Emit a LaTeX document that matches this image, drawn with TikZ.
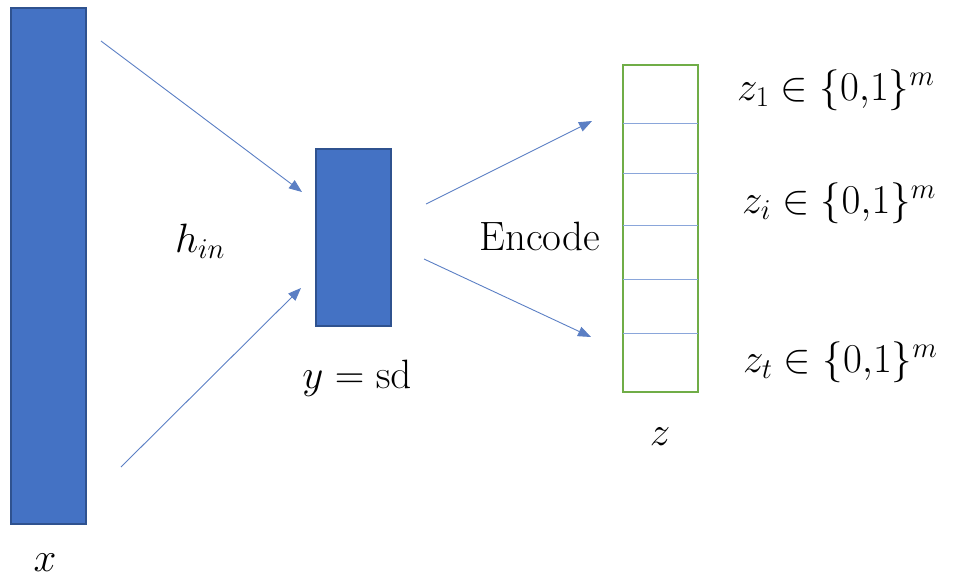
\RequirePackage{fix-cm}
\documentclass[tikz,border=0pt]{standalone}
\usetikzlibrary{arrows.meta}
\definecolor{barblue}{HTML}{4472C4}
\definecolor{bardark}{HTML}{2F528F}
\definecolor{linkblue}{HTML}{5B7FC4}
\definecolor{cellline}{HTML}{8AA6DA}
\definecolor{vecgreen}{HTML}{70AD47}
\begin{document}
\begin{tikzpicture}[x=1pt,y=-1pt,
  bar/.style={draw=bardark, line width=1.2pt, fill=barblue, inner sep=0pt, outer sep=0pt},
  vec/.style={draw=vecgreen, line width=1.2pt, fill=white, inner sep=0pt, outer sep=0pt},
  link/.style={draw=linkblue, line width=0.9pt, -{Triangle[length=13pt,width=10pt]}},
  cell/.style={draw=cellline, line width=1pt},
  lbl/.style={font=\fontsize{41}{48}\selectfont, inner sep=0pt, anchor=base}
]
\useasboundingbox (0,0) rectangle (964,578);

% input layer, hidden code and binary vector
\node[bar, minimum width=75pt, minimum height=516pt] (xin) at (48.5,266) {};
\node[bar, minimum width=75pt, minimum height=177pt] (ysd) at (353.5,237.5) {};
\node[vec, minimum width=75pt, minimum height=327pt] (zvec) at (660.5,228.5) {};
\foreach \yy in {123,173,225,279,333}
  \draw[cell] (zvec.west |- 0,\yy) -- (zvec.east |- 0,\yy);

% free ends of the connectors
\coordinate (a1s) at (101,41);
\coordinate (a1e) at (302,192);
\coordinate (a2s) at (121,467);
\coordinate (a2e) at (301,288);
\coordinate (b1s) at (426,204);
\coordinate (b1e) at (592,121);
\coordinate (b2s) at (424,259);
\coordinate (b2e) at (591,337);

\draw[link] (a1s) -- (a1e);
\draw[link] (a2s) -- (a2e);
\draw[link] (b1s) -- (b1e);
\draw[link] (b2s) -- (b2e);

% labels
\node[lbl] (xlab) at (45,571) {$x$};
\node[lbl] (hin) at (200,252) {$h_{in}$};
\node[lbl] (ylab) at (357,388) {$y = \mathrm{sd}$};
\node[lbl] (enc) at (540,250) {Encode};
\node[lbl] (zlab) at (660,445) {$z$};
\node[lbl, anchor=base west] (z1) at (737,100) {$z_1 \in \{0{,}1\}^m$};
\node[lbl, anchor=base west] (zi) at (742,213) {$z_i \in \{0{,}1\}^m$};
\node[lbl, anchor=base west] (zt) at (743,372) {$z_t \in \{0{,}1\}^m$};
\end{tikzpicture}
\end{document}
